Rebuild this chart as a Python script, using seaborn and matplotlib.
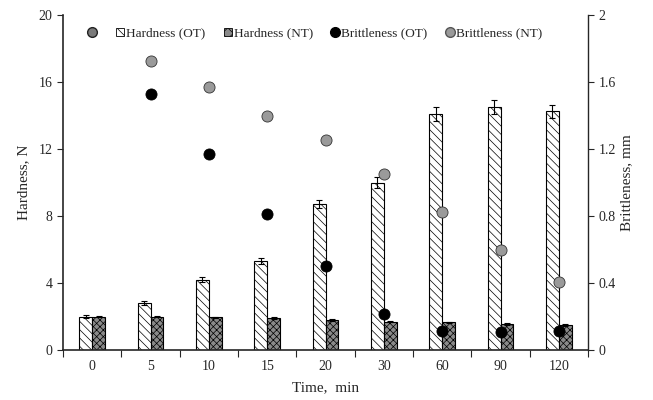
import numpy as np
import pandas as pd
import matplotlib
matplotlib.use("Agg")
import matplotlib.pyplot as plt
import seaborn as sns
from matplotlib.patches import Patch
from matplotlib.lines import Line2D

# ---------------------------------------------------------------------
# data
# ---------------------------------------------------------------------
times = ["0", "5", "10", "15", "20", "30", "60", "90", "120"]
hard_ot = [2.0, 2.8, 4.2, 5.3, 8.7, 10.0, 14.1, 14.5, 14.25]
hard_ot_err = [0.08, 0.12, 0.15, 0.18, 0.25, 0.3, 0.4, 0.4, 0.4]
hard_nt = [2.0, 2.0, 1.95, 1.9, 1.8, 1.7, 1.65, 1.55, 1.5]
hard_nt_err = [0.05, 0.05, 0.05, 0.05, 0.05, 0.05, 0.05, 0.05, 0.05]
brit_times = ["5", "10", "15", "20", "30", "60", "90", "120"]
brit_ot = [1.53, 1.17, 0.81, 0.50, 0.215, 0.113, 0.107, 0.113]
brit_nt = [1.725, 1.57, 1.40, 1.254, 1.05, 0.824, 0.597, 0.406]

df = pd.DataFrame({
    "time": times * 2,
    "hardness": hard_ot + hard_nt,
    "err": hard_ot_err + hard_nt_err,
    "group": ["Hardness (OT)"] * len(times) + ["Hardness (NT)"] * len(times),
})

sns.set_style("ticks")
plt.rcParams["font.family"] = ["Liberation Serif", "DejaVu Serif"]
plt.rcParams["hatch.linewidth"] = 0.5

fig = plt.figure(figsize=(6.53, 4.0), dpi=100)
ax = fig.add_axes([0.0965, 0.125, 0.804, 0.8375])

sns.barplot(data=df, x="time", y="hardness", hue="group", order=times,
            palette=["white", "#8a8a8a"], width=0.44, gap=0, errorbar=None,
            legend=False, ax=ax, zorder=2)

hatches = {"Hardness (OT)": "\\\\\\\\", "Hardness (NT)": "xxxxx"}
for cont, (name, vals, errs) in zip(ax.containers,
                                    [("Hardness (OT)", hard_ot, hard_ot_err),
                                     ("Hardness (NT)", hard_nt, hard_nt_err)]):
    xs = []
    for p in cont:
        p.set_hatch(hatches[name])
        p.set_edgecolor("black")
        p.set_linewidth(0.8)
        xs.append(p.get_x() + p.get_width() / 2)
    ax.errorbar(xs, vals, yerr=errs, fmt="none", ecolor="black",
                elinewidth=0.8, capsize=2.5, capthick=0.8, zorder=3)

ax.set_ylim(0, 20)
ax.set_xlim(-0.5, len(times) - 0.5)
ax.set_yticks([0, 4, 8, 12, 16, 20])
ax.set_xticks(np.arange(len(times)))
ax.set_xticklabels(times)
ax.set_xticks(np.arange(len(times) + 1) - 0.5, minor=True)
ax.tick_params(axis="x", which="major", length=0, labelsize=10, pad=7)
ax.tick_params(axis="x", which="minor", length=5, width=0.8, direction="out")
ax.tick_params(axis="y", length=4, width=0.8, labelsize=10)
ax.set_xlabel("Time,  min", fontsize=11, labelpad=6)
ax.set_ylabel("Hardness, N", fontsize=11, labelpad=6)
for s in ["left", "bottom"]:
    ax.spines[s].set_linewidth(1.2)
ax.spines["top"].set_visible(False)
ax.spines["right"].set_visible(False)

# brittleness on secondary axis
ax2 = ax.twinx()
pos = [times.index(t) for t in brit_times]
sns.scatterplot(x=pos, y=brit_ot, ax=ax2, color="black", s=64,
                edgecolor="black", linewidth=0.6, zorder=4)
sns.scatterplot(x=pos, y=brit_nt, ax=ax2, color="#9a9a9a", s=64,
                edgecolor="#333333", linewidth=0.6, zorder=4)
ax2.set_ylim(0, 2)
ax2.set_xlim(-0.5, len(times) - 0.5)
ax2.set_yticks([0, 0.4, 0.8, 1.2, 1.6, 2])
ax2.set_yticklabels(["0", "0.4", "0.8", "1.2", "1.6", "2"])
ax2.tick_params(axis="y", length=4, width=0.8, labelsize=10)
ax2.set_ylabel("Brittleness, mm", fontsize=11, labelpad=3)
ax2.spines["right"].set_linewidth(1.0)
ax2.spines["top"].set_visible(False)
ax2.spines["left"].set_visible(False)
ax2.spines["bottom"].set_visible(False)

handles = [
    Line2D([], [], ls="none", marker="o", ms=7, mfc="#7a7a7a", mec="#222222"),
    Patch(facecolor="white", edgecolor="black", hatch="\\\\\\", lw=0.6),
    Patch(facecolor="#8a8a8a", edgecolor="black", hatch="xxx", lw=0.6),
    Line2D([], [], ls="none", marker="o", ms=7, mfc="black", mec="black"),
    Line2D([], [], ls="none", marker="o", ms=7, mfc="#9a9a9a", mec="#555555"),
]
labels = ["", "Hardness (OT)", "Hardness (NT)", "Brittleness (OT)", "Brittleness (NT)"]
ax2.legend(handles, labels, loc="upper center", bbox_to_anchor=(0.48, 0.998),
           ncol=5, frameon=False, fontsize=9.5, handlelength=0.6,
           handleheight=0.6, handletextpad=0.15, columnspacing=1.4)

fig.savefig("out.png", dpi=100)
